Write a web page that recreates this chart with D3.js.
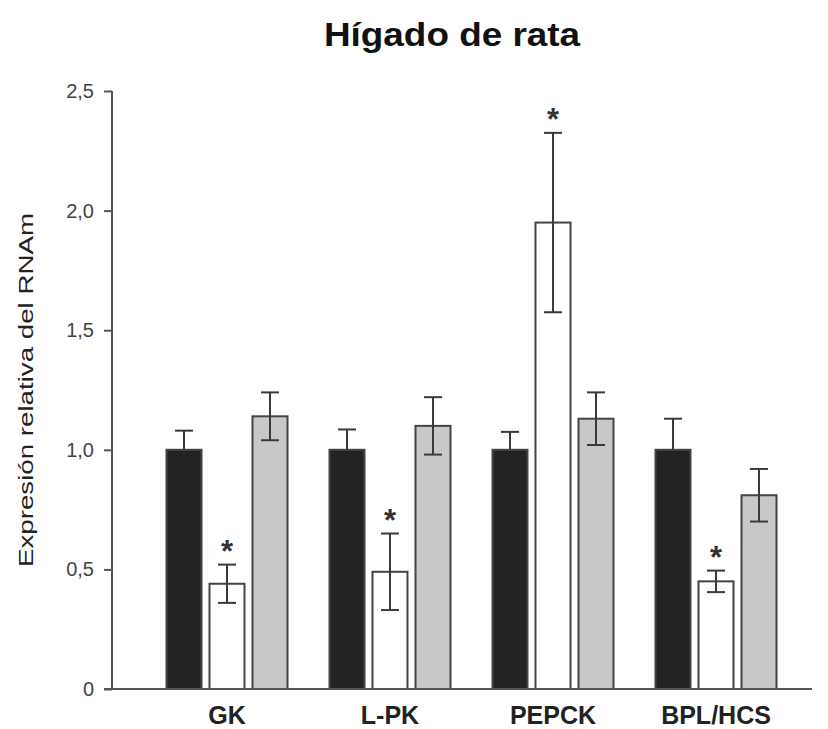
<!DOCTYPE html>
<html>
<head>
<meta charset="utf-8">
<script src="https://cdn.jsdelivr.net/npm/d3@7"></script>
<style>
  html, body { margin: 0; padding: 0; background: #fff; }
  svg { display: block; }
  text { font-family: "Liberation Sans", Arial, sans-serif; }
</style>
</head>
<body>
<svg id="chart" width="828" height="729"></svg>
<script>
// Genes measured
const categories = ["GK", "L-PK", "PEPCK", "BPL/HCS"];
// Experimental groups (bar order within each gene)
const groups = ["control", "grupoB", "grupoC"];
const groupFill = ["#232323", "#ffffff", "#c8c8c8"];

// Relative mRNA expression (mean) and error (SEM) per group
const controlValues = [1.00, 1.00, 1.00, 1.00];
const controlErrors = [0.08, 0.085, 0.075, 0.13];
const grupoBValues  = [0.44, 0.49, 1.95, 0.45];
const grupoBErrors  = [0.08, 0.16, 0.375, 0.045];
const grupoCValues  = [1.14, 1.10, 1.13, 0.81];
const grupoCErrors  = [0.10, 0.12, 0.11, 0.11];
// Significance markers (asterisk) per group and gene
const grupoBSignif  = [true, true, true, true];

const yTicks = [0, 0.5, 1.0, 1.5, 2.0, 2.5];
const yTickLabels = ["0", "0,5", "1,0", "1,5", "2,0", "2,5"];

const valuesBy = [controlValues, grupoBValues, grupoCValues];
const errorsBy = [controlErrors, grupoBErrors, grupoCErrors];
const signifBy = [null, grupoBSignif, null];

const rows = [];
categories.forEach((c, ci) => {
  groups.forEach((g, gi) => {
    rows.push({
      cat: c, group: g, gi,
      value: valuesBy[gi][ci],
      err: errorsBy[gi][ci],
      star: signifBy[gi] ? signifBy[gi][ci] : false
    });
  });
});

const svg = d3.select("#chart");
const axisX = 112, axisRight = 812, yTop = 91, yBottom = 689;

const y = d3.scaleLinear().domain([0, 2.5]).range([yBottom, yTop]);
const x0 = d3.scaleBand().domain(categories).range([145.5, 797.5]).padding(0);
const x1 = d3.scaleBand().domain(groups).range([21, 142]).paddingInner(0.186);

// Title
svg.append("text")
  .attr("x", 452).attr("y", 46)
  .attr("text-anchor", "middle")
  .attr("font-size", 33).attr("font-weight", "bold")
  .attr("fill", "#111")
  .attr("textLength", 256)
  .attr("lengthAdjust", "spacingAndGlyphs")
  .text("Hígado de rata");

// Y axis label
svg.append("text")
  .attr("transform", "translate(33,390) rotate(-90)")
  .attr("text-anchor", "middle")
  .attr("font-size", 21)
  .attr("fill", "#222")
  .attr("textLength", 354)
  .attr("lengthAdjust", "spacingAndGlyphs")
  .text("Expresión relativa del  RNAm");

// Bars
const bars = svg.append("g");
bars.selectAll("rect")
  .data(rows)
  .join("rect")
  .attr("x", d => x0(d.cat) + x1(d.group))
  .attr("y", d => y(d.value))
  .attr("width", x1.bandwidth())
  .attr("height", d => y(0) - y(d.value))
  .attr("fill", d => groupFill[d.gi])
  .attr("stroke", "#444")
  .attr("stroke-width", 2);

// Error bars (the lower half disappears inside the dark control bars)
const capHalf = 9;
const eb = svg.append("g").attr("stroke", "#3a3a3a").attr("stroke-width", 2).attr("fill", "none");
rows.forEach(d => {
  const cx = x0(d.cat) + x1(d.group) + x1.bandwidth() / 2;
  const top = y(d.value + d.err);
  const bot = d.gi === 0 ? y(d.value) : y(d.value - d.err);
  eb.append("line").attr("x1", cx).attr("x2", cx).attr("y1", top).attr("y2", bot);
  eb.append("line").attr("x1", cx - capHalf).attr("x2", cx + capHalf).attr("y1", top).attr("y2", top);
  if (d.gi !== 0) {
    eb.append("line").attr("x1", cx - capHalf).attr("x2", cx + capHalf).attr("y1", bot).attr("y2", bot);
  }
});

// Significance asterisks
svg.append("g").selectAll("text")
  .data(rows.filter(d => d.star))
  .join("text")
  .attr("x", d => x0(d.cat) + x1(d.group) + x1.bandwidth() / 2)
  .attr("y", d => y(d.value + d.err) - 3)
  .attr("text-anchor", "middle")
  .attr("font-size", 31).attr("font-weight", "bold")
  .attr("fill", "#333")
  .text("*");

// Y axis
const yAxis = d3.axisLeft(y)
  .tickValues(yTicks)
  .tickFormat((d, i) => yTickLabels[i])
  .tickSize(8)
  .tickPadding(10);
const gy = svg.append("g").attr("transform", `translate(${axisX},0)`).call(yAxis);
gy.select(".domain").attr("stroke", "#555").attr("stroke-width", 2)
  .attr("d", `M0,${yTop}V${yBottom}`);
gy.selectAll(".tick line").attr("stroke", "#555").attr("stroke-width", 2);
gy.selectAll(".tick text").attr("font-size", 20).attr("fill", "#444")
  .attr("font-family", "'Liberation Sans', Arial, sans-serif");

// X baseline
svg.append("line")
  .attr("x1", axisX - 8).attr("x2", axisRight)
  .attr("y1", y(0)).attr("y2", y(0))
  .attr("stroke", "#555").attr("stroke-width", 2);

// Category labels
svg.append("g").selectAll("text")
  .data(categories)
  .join("text")
  .attr("x", d => x0(d) + x1("grupoB") + x1.bandwidth() / 2)
  .attr("y", 724)
  .attr("text-anchor", "middle")
  .attr("font-size", 25).attr("font-weight", "bold")
  .attr("fill", "#222")
  .text(d => d);
</script>
</body>
</html>
